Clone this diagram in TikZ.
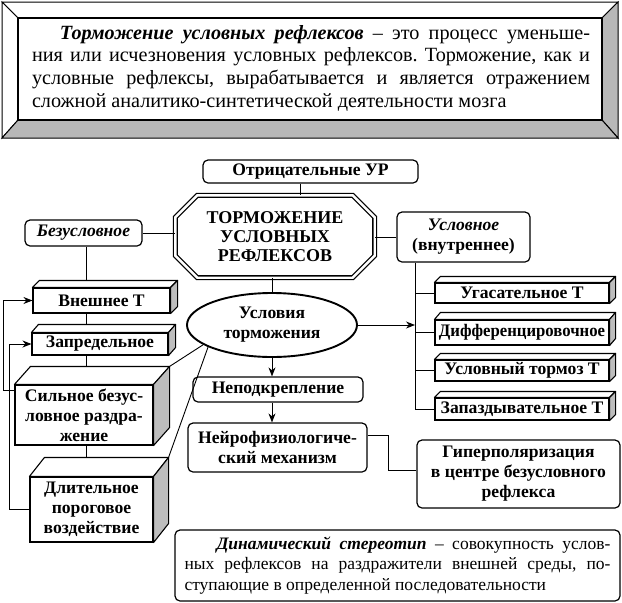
\documentclass[tikz,border=0pt]{standalone}
\usepackage{fontspec}
\setmainfont{Liberation Serif}
\usetikzlibrary{arrows.meta,shapes.geometric}
\definecolor{sidegray}{gray}{0.74}
\definecolor{bevelgray}{gray}{0.72}
\frenchspacing
\tikzset{
  lbl/.style={font=\bfseries\fontsize{17.6}{20}\selectfont, inner sep=0pt, align=center},
  rbox/.style={lbl, draw, line width=1.2pt, rounded corners=5pt, fill=white},
  fbox/.style={lbl, draw, line width=1.1pt, fill=white},
  conn/.style={line width=0.9pt},
  arr/.style={conn, -{Stealth[length=9pt,width=7pt]}},
  face/.style={line width=1.1pt, line join=round},
}
\newcommand\prismfaces[3]{%
  \draw[face, fill=white] (#1.north west) -- ++(#2,-#3) -- ([shift={(#2,-#3)}]#1.north east) -- (#1.north east) -- cycle;
  \draw[face, fill=sidegray] (#1.north east) -- ([shift={(#2,-#3)}]#1.north east) -- ([shift={(#2,-#3)}]#1.south east) -- (#1.south east) -- cycle;
}
\begin{document}
\begin{tikzpicture}[x=1pt,y=-1pt]
\useasboundingbox (0,0) rectangle (622,603);
% ---- top bevelled frame
\draw[line width=1pt, fill=white] (2,2) -- (618,2) -- (602,18) -- (18,18) -- cycle;
\draw[line width=1pt, fill=white] (2,2) -- (18,18) -- (18,120) -- (2,138) -- cycle;
\draw[line width=1pt, fill=bevelgray] (618,2) -- (618,138) -- (602,120) -- (602,18) -- cycle;
\draw[line width=1pt, fill=bevelgray] (2,138) -- (18,120) -- (602,120) -- (618,138) -- cycle;
\draw[line width=1.2pt] (18,18) rectangle (602,120);
\node[inner sep=0pt, align=left, font=\fontsize{20.2}{22.7}\selectfont] (deftext) at (311,68) {%
\makebox[558pt][s]{\hspace*{28pt}\textbf{\textit{Торможение условных рефлексов}} – это процесс уменьше-}\\
\makebox[558pt][s]{ния или исчезновения условных рефлексов. Торможение, как и}\\
\makebox[558pt][s]{условные рефлексы, вырабатывается и является отражением}\\
сложной аналитико-синтетической деятельности мозга};

% ---- upper nodes
\node[rbox, minimum width=215, minimum height=23] (otr) at (310.5,171.5) {Отрицательные УР};
\node[lbl, minimum width=199, minimum height=82, font=\bfseries\fontsize{18}{19}\selectfont] (oct) at (275,236.5) {ТОРМОЖЕНИЕ\\УСЛОВНЫХ\\РЕФЛЕКСОВ};
\draw[line width=1.3pt, double, double distance=2.4pt]
  ([xshift=22pt]oct.north west) -- ([xshift=-22pt]oct.north east) -- ([yshift=-22pt]oct.north east)
  -- ([yshift=22pt]oct.south east) -- ([xshift=-22pt]oct.south east) -- ([xshift=22pt]oct.south west)
  -- ([yshift=22pt]oct.south west) -- ([yshift=-22pt]oct.north west) -- cycle;
\node[rbox, font=\bfseries\itshape\fontsize{17.6}{20}\selectfont, minimum width=117, minimum height=26] (bez) at (83.5,233) {Безусловное};
\node[rbox, minimum width=133, minimum height=50] (usl) at (463.5,237) {\textit{Условное}\\(внутреннее)};
\coordinate (ubus) at ([xshift=-48.5pt]usl.south);

% connectors behind boxes
\draw[conn] ([xshift=-10.5pt]otr.south) -- ([xshift=-10.5pt]otr.south |- oct.north);
\draw[conn] (bez.east) -- (bez.east -| oct.west);
\draw[conn] (usl.west) -- (usl.west -| oct.east);
\draw[conn] ([xshift=2.5pt]bez.south) -- ([xshift=2.5pt,yshift=-230pt]bez.south);

% ---- ellipse and central chain
\node[lbl, ellipse, draw, line width=1.9pt, fill=white, minimum width=170, minimum height=64] (ell) at (272,325) {Условия\\торможения};
\draw[conn] (ell.north) -- (ell.north |- oct.south);
\node[rbox, minimum width=170, minimum height=25] (nepod) at (278,389.5) {Неподкрепление};
\node[rbox, minimum width=179, minimum height=49] (neuro) at (277.5,447.5) {Нейрофизиологиче-\\ский механизм};
\node[rbox, minimum width=203, minimum height=68] (giper) at (518.5,474) {Гиперполяризация\\в центре безусловного\\рефлекса};
\draw[arr] (ell.south) -- (ell.south |- nepod.north);
\draw[arr] (ell.south |- nepod.south) -- (ell.south |- neuro.north);
\draw[conn] ([yshift=12pt]neuro.east) -- ++(21,0) |- ([yshift=4pt]giper.west);

% ---- right column
\node[fbox, minimum width=174, minimum height=20] (ugas) at (522,293) {Угасательное Т};
\node[fbox, minimum width=174, minimum height=25] (diff) at (522,332.5) {\scalebox{0.95}[1]{Дифференцировочное}};
\node[fbox, minimum width=174, minimum height=21] (uslt) at (522,370.5) {Условный тормоз Т};
\node[fbox, minimum width=174, minimum height=22] (zapaz) at (522,409) {Запаздывательное Т};
\prismfaces{ugas}{6}{6}
\prismfaces{diff}{6}{7}
\prismfaces{uslt}{6}{6}
\prismfaces{zapaz}{6}{6}
\draw[conn] (ubus) -- (ubus |- zapaz.west) -- (zapaz.west);
\draw[conn] (ubus |- ugas.west) -- (ugas.west);
\draw[conn] (ubus |- diff.west) -- (diff.west);
\draw[conn] (ubus |- uslt.west) -- (uslt.west);
\draw[arr] (ell.east) -- (ell.east -| ubus);

% ---- left column
\node[fbox, minimum width=137, minimum height=25] (vnesh) at (101.5,300.5) {Внешнее Т};
\node[fbox, minimum width=136, minimum height=22] (zapr) at (100,344) {Запредельное};
\node[fbox, minimum width=138, minimum height=60] (siln) at (84,415) {Сильное безус-\\ловное раздра-\\жение};
\node[fbox, minimum width=123, minimum height=65] (dlit) at (91.5,509.5) {Длительное\\пороговое\\воздействие};
\prismfaces{vnesh}{7}{7}
\prismfaces{zapr}{7}{8}
\prismfaces{siln}{16}{18}
\prismfaces{dlit}{15}{19}
\draw[arr] ([yshift=25pt]siln.west) -- ++(-11,0) |- (vnesh.west);
\draw[arr] (dlit.west) -- ++(-20,0) |- (zapr.west);
\draw[conn] (ell.196) -- ([shift={(16,-18)}]siln.north east);
\draw[conn] (ell.199) -- ([shift={(15,-19)}]dlit.north east);

% ---- bottom definition
\node[rbox, minimum width=445, minimum height=71, align=left, font=\fontsize{17.5}{20.5}\selectfont] (dyn) at (397.5,565.5) {%
\makebox[426pt][s]{\hspace*{32pt}\textbf{\textit{Динамический стереотип}} – совокупность услов-}\\
\makebox[426pt][s]{ных рефлексов на раздражители внешней среды, по-}\\
ступающие в определенной последовательности};
\end{tikzpicture}
\end{document}
